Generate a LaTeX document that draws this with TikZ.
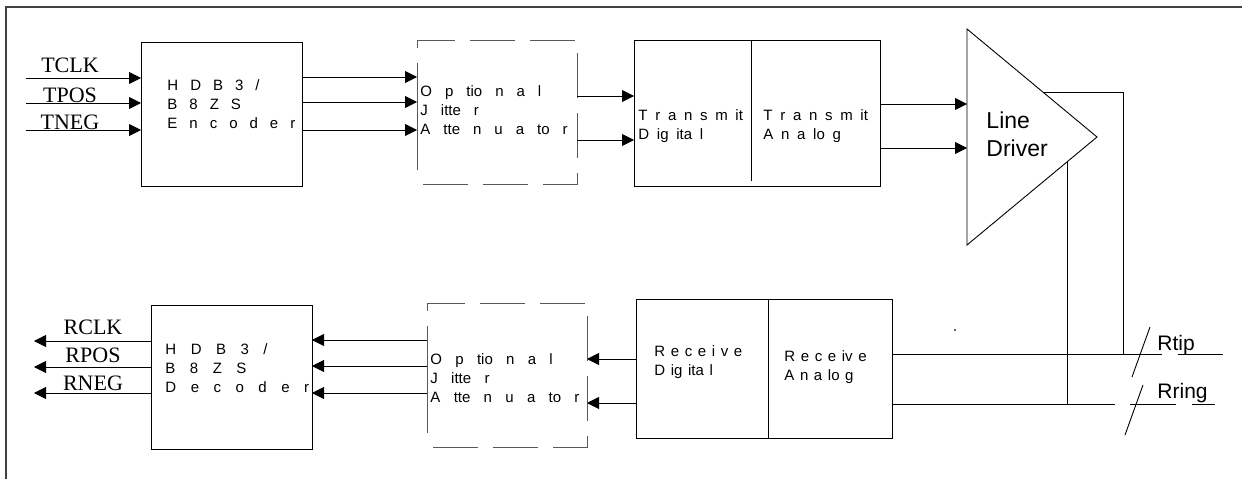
\documentclass[tikz,border=0pt]{standalone}
\usepackage{fontspec}
\setmainfont{Liberation Serif}
\setsansfont{Liberation Sans}
\usetikzlibrary{arrows.meta,calc,positioning}

\tikzset{
  box/.style={draw,inner sep=0pt,outer sep=0pt},
  dbox/.style={draw=black!65,dash pattern=on 45pt off 15pt,dash phase=7pt},
  lside/.style={draw=black!65,dash pattern=on 8pt off 15pt on 107pt off 14pt},
  arr/.style={-{Triangle[length=12pt,width=12pt]}},
  blocktext/.style={font=\sffamily\fontsize{15}{19}\selectfont,
    execute at begin node={\spaceskip=#1\relax},
    align=left,inner sep=0pt,anchor=base west},
  sig/.style={font=\rmfamily\fontsize{22}{24}\selectfont,inner sep=0pt,anchor=base},
  term/.style={font=\sffamily\fontsize{21}{24}\selectfont,inner sep=0pt,anchor=base west}
}

\begin{document}
\begin{tikzpicture}[x=1pt,y=-1pt,line width=0.9pt]
  \useasboundingbox (0,0) rectangle (1242,479);
  \draw[black!75,line width=1.2pt] (1242,7) -- (6,7) -- (6,479);

  % transmit side
  \node[box,minimum width=161pt,minimum height=144pt] (enc) at (221.5,114) {};
  \node[inner sep=0pt,outer sep=0pt,minimum width=160pt,minimum height=144pt] (attT) at (497,112) {};
  \draw[dbox] (attT.north west) -- (attT.north east) -- (attT.south east) -- (attT.south west);
  \draw[lside] (attT.north west) -- (attT.south west);
  \node[box,minimum width=246pt,minimum height=146pt] (tx) at (757,113) {};
  \draw (tx.north -| 751,0) -- (751,181);
  \coordinate (ldt) at (967,29);
  \coordinate (ldb) at (967,245);
  \coordinate (ldx) at (1097,137);
  \draw (ldt) -- (ldx) -- (ldb) -- cycle;

  % multi-line nodes: base is the last line
  \node[blocktext=12pt] (enctxt) at (167,128) {H D B 3 /\\B 8 Z S\\E n c o d e r};
  \node[blocktext=13pt] (atttxtT) at (420,134) {O p tio n a l\\J itte r\\A tte n u a to r};
  \node[blocktext=7.7pt] (txd) at (638,139) {T r a n s m it\\D ig ita l};
  \node[blocktext=7.7pt] (txa) at (763,139) {T r a n s m it\\A n a lo g};
  \node[font=\sffamily\fontsize{23}{28}\selectfont,align=left,inner sep=0pt,anchor=base west]
    (ldlab) at (986,156) {Line\\Driver};

  % receive side
  \node[box,minimum width=256pt,minimum height=139pt] (rx) at (764,368.5) {};
  \draw (rx.north -| 768,0) -- (rx.south -| 768,0);
  \node[inner sep=0pt,outer sep=0pt,minimum width=160pt,minimum height=144pt] (attR) at (507,375) {};
  \draw[dbox] (attR.north west) -- (attR.north east) -- (attR.south east) -- (attR.south west);
  \draw[lside] (attR.north west) -- (attR.south west);
  \node[box,minimum width=161pt,minimum height=144pt] (dec) at (231.5,377) {};

  \node[blocktext=14.5pt] (dectxt) at (165,392) {H D B 3 /\\B 8 Z S\\D e c o d e r};
  \node[blocktext=13.3pt] (atttxtR) at (430,402) {O p tio n a l\\J itte r\\A tte n u a to r};
  \node[blocktext=5.6pt] (rxd) at (654,375) {R e c e i v e\\D ig ita l};
  \node[blocktext=5.6pt] (rxa) at (784,380) {R e c e iv e\\A n a lo g};

  % signals in and out
  \foreach \y/\lab/\ly in {78/TCLK/72,103/TPOS/102,130/TNEG/129}{
    \coordinate (in-\lab) at (26,\y);
    \draw[arr] (in-\lab) -- (in-\lab -| enc.west);
    \node[sig] (lab-\lab) at (70,\ly) {\lab};
  }
  \foreach \y/\lab/\ly in {341/RCLK/334,367/RPOS/362,393/RNEG/390}{
    \coordinate (out-\lab) at (34,\y);
    \draw[arr] (dec.west |- out-\lab) -- (out-\lab);
    \node[sig] (lab-\lab) at (93,\ly) {\lab};
  }

  % block to block
  \foreach \y in {77,102,130}
    \draw[arr] (enc.east |- 0,\y) -- (attT.west |- 0,\y);
  \foreach \y in {96,140}
    \draw[arr] (attT.east |- 0,\y) -- (tx.west |- 0,\y);
  \foreach \y in {104,148}
    \draw[arr] (tx.east |- 0,\y) -- (ldt |- 0,\y);
  \foreach \y in {359,403}
    \draw[arr] (rx.west |- 0,\y) -- (attR.east |- 0,\y);
  \foreach \y in {340,366,393}
    \draw[arr] (attR.west |- 0,\y) -- (dec.east |- 0,\y);

  % line side
  \coordinate (tipout) at ($(ldt)!0.585!(ldx)$);
  \coordinate (ringout) at ($(ldb)!0.769!(ldx)$);
  \coordinate (rtip) at (1162,354);
  \coordinate (rring) at (1115,404);
  \draw (tipout) -- (tipout -| 1123,0) -- (1123,354);
  \draw (ringout) -- (ringout |- rring);
  \draw (rx.east |- rtip) -- (rtip);
  \draw (1178,354) -- (1223,354);
  \draw (rx.east |- rring) -- (rring);
  \draw (1130,404) -- (1176,404);
  \draw (1192,404) -- (1215,404);
  \draw (1150,327) -- (1132,377);
  \draw (1143,385) -- (1125,435);
  \node[term] (rtiplab) at (1157,350) {Rtip};
  \node[term] (rringlab) at (1157,398) {Rring};
  \fill[black!60] (954,329) rectangle (956,331);
\end{tikzpicture}
\end{document}
